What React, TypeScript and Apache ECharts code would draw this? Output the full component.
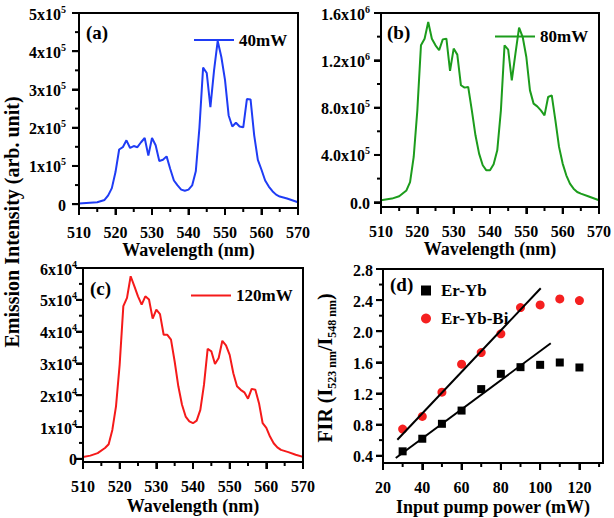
import { useEffect, useRef } from 'react';
import * as echarts from 'echarts';

// ---------- Data ----------
const aWavelength = [510, 515, 517, 518, 519, 520, 521, 522, 523, 524, 525, 526, 527, 528, 529, 530, 531, 532, 533, 534, 535, 536, 537, 538, 539, 540, 541, 542, 543, 544, 545, 546, 547, 548, 549, 550, 551, 552, 553, 554, 555, 556, 557, 558, 559, 560, 561, 562, 563, 564, 565, 567, 570];
const aIntensity40mW = [2000, 5000, 11000, 23000, 42000, 84000, 143000, 149000, 167000, 147000, 152000, 149000, 162000, 173000, 127000, 173000, 154000, 113000, 116000, 125000, 92000, 62000, 49000, 38000, 35000, 38000, 49000, 86000, 201000, 357000, 343000, 254000, 350000, 427000, 385000, 325000, 232000, 203000, 213000, 203000, 201000, 275000, 274000, 180000, 116000, 90000, 62000, 46000, 34000, 25000, 20000, 15000, 5000];

const bWavelength = [510, 513, 515, 517, 518, 519, 520, 521, 522, 523, 524, 525, 526, 527, 528, 529, 530, 531, 532, 533, 534, 535, 536, 537, 538, 539, 540, 541, 542, 543, 544, 545, 546, 547, 548, 549, 550, 551, 552, 553, 554, 555, 556, 557, 558, 559, 560, 561, 562, 563, 564, 565, 567, 570];
const bIntensity80mW = [17000, 31000, 51000, 100000, 170000, 383000, 777000, 1327000, 1383000, 1524000, 1383000, 1327000, 1285000, 1377000, 1383000, 1110000, 1299000, 1248000, 989000, 969000, 975000, 777000, 566000, 411000, 313000, 270000, 270000, 321000, 439000, 777000, 1327000, 1290000, 1031000, 1256000, 1476000, 1397000, 1228000, 946000, 834000, 811000, 777000, 735000, 890000, 904000, 693000, 468000, 327000, 228000, 158000, 115000, 87000, 73000, 51000, 17000];

const cWavelength = [510, 512, 514, 516, 517, 518, 519, 520, 521, 522, 523, 524, 525, 526, 527, 528, 529, 530, 531, 532, 533, 534, 535, 536, 537, 538, 539, 540, 541, 542, 543, 544, 545, 546, 547, 548, 549, 550, 551, 552, 553, 554, 555, 556, 557, 558, 559, 560, 561, 562, 563, 564, 566, 568, 570];
const cIntensity120mW = [600, 1000, 1800, 3400, 4600, 9100, 16500, 29600, 48000, 50600, 57400, 54300, 51100, 48500, 51100, 50100, 44100, 46900, 45500, 39000, 39000, 37500, 30600, 22800, 17000, 13300, 11800, 11200, 12000, 15400, 23300, 34600, 33800, 29800, 31700, 37100, 35700, 32700, 26900, 22800, 21700, 20900, 18900, 22000, 21700, 17500, 11200, 9700, 7000, 4900, 3600, 2800, 2100, 1300, 600];

const pumpPower = [30, 40, 50, 60, 70, 80, 90, 100, 110, 120];
const firErYb = [0.456, 0.618, 0.81, 0.98, 1.256, 1.452, 1.538, 1.568, 1.598, 1.534];
const firErYbBi = [0.742, 0.905, 1.217, 1.576, 1.726, 1.966, 2.304, 2.338, 2.415, 2.394];
const fitErYbX = [26.5, 105.4];
const fitErYbY = [0.37, 1.846];
const fitErYbBiX = [27.3, 100.3];
const fitErYbBiY = [0.605, 2.552];

// Axis ranges
const wlRange = [510, 570];
const aYRange = [-10000, 500000];
const bYRange = [-40000, 1600000];
const cYRange = [-1000, 60000];
const dXRange = [20, 132];
const dYRange = [0.306, 2.8];

// Tick values
const wlTicks = [510, 520, 530, 540, 550, 560, 570];
const wlMinor = [515, 525, 535, 545, 555, 565];
const aYTicks = [0, 100000, 200000, 300000, 400000, 500000];
const aYMinor = [50000, 150000, 250000, 350000, 450000];
const bYTicks = [0, 400000, 800000, 1200000, 1600000];
const bYMinor = [200000, 600000, 1000000, 1400000];
const cYTicks = [0, 10000, 20000, 30000, 40000, 50000, 60000];
const cYMinor = [5000, 15000, 25000, 35000, 45000, 55000];
const dXTicks = [20, 40, 60, 80, 100, 120];
const dXMinor = [30, 50, 70, 90, 110, 130];
const dYTicks = [0.4, 0.8, 1.2, 1.6, 2.0, 2.4, 2.8];
const dYMinor = [0.6, 1.0, 1.4, 1.8, 2.2, 2.6];

const FONT = '"Liberation Serif", "Times New Roman", serif';
const zip = (xs: number[], ys: number[]) => xs.map((x, i) => [x, ys[i]]);

const supRich = {
  m: { fontFamily: FONT, fontWeight: 'bold', fontSize: 16, lineHeight: 18, verticalAlign: 'bottom', color: '#000' },
  s: { fontFamily: FONT, fontWeight: 'bold', fontSize: 10, lineHeight: 10, verticalAlign: 'top', color: '#000' },
};

function mainAxis(dim: 'x' | 'y', gi: number, range: number[], major: number[], formatter: any, margin: number, name?: string, nameGap?: number) {
  const a: any = {
    type: 'value', gridIndex: gi, min: range[0], max: range[1],
    position: dim === 'x' ? 'bottom' : 'left',
    axisLine: { show: true, onZero: false, lineStyle: { color: '#000', width: 2 } },
    axisTick: { show: true, length: 7, customValues: major, lineStyle: { color: '#000', width: 2 } },
    axisLabel: {
      show: true, customValues: major, formatter, rich: supRich, margin,
      fontFamily: FONT, fontWeight: 'bold', fontSize: 16, color: '#000',
      showMinLabel: true, showMaxLabel: true, hideOverlap: false,
    },
    splitLine: { show: false },
  };
  if (name) {
    a.name = name; a.nameLocation = 'middle'; a.nameGap = nameGap;
    a.nameTextStyle = { fontFamily: FONT, fontWeight: 'bold', fontSize: 18, color: '#000', verticalAlign: 'top' };
  }
  return a;
}

const fmtA = (v: number) => (v === 0 ? '{m|0}' : `{m|${Math.round(v / 1e5)}x10}{s|5}`);
const fmtB = (v: number) => v === 0 ? '{m|0.0}' : v < 1e6 ? `{m|${(v / 1e5).toFixed(1)}x10}{s|5}` : `{m|${(v / 1e6).toFixed(1)}x10}{s|6}`;
const fmtC = (v: number) => (v === 0 ? '{m|0}' : `{m|${Math.round(v / 1e4)}x10}{s|4}`);
const fmtD = (v: number) => `{m|${v.toFixed(1)}}`;
const fmtInt = (v: number) => `{m|${Math.round(v)}}`;

// Frame (box) drawn through the axes' own scales
const frameSeries = (gi: number, xr: number[], yr: number[]) => ({
  name: `frame${gi}`, type: 'line', xAxisIndex: gi, yAxisIndex: gi, symbol: 'none', clip: false,
  lineStyle: { color: '#000', width: 2 },
  data: [[xr[0], yr[0]], [xr[1], yr[0]], [xr[1], yr[1]], [xr[0], yr[1]], [xr[0], yr[0]]],
});
// Outward tick marks placed through the axes' scales
const xTickSeries = (gi: number, vals: number[], yMin: number, len: number, key: string) => ({
  name: `xt${gi}${key}`, type: 'scatter', xAxisIndex: gi, yAxisIndex: gi, clip: false,
  symbol: 'rect', symbolSize: [2, len], symbolOffset: [0, len / 2],
  itemStyle: { color: '#000', opacity: 1 },
  data: vals.map((v) => [v, yMin]),
});
const yTickSeries = (gi: number, vals: number[], xMin: number, len: number, key: string) => ({
  name: `yt${gi}${key}`, type: 'scatter', xAxisIndex: gi, yAxisIndex: gi, clip: false,
  symbol: 'rect', symbolSize: [len, 2], symbolOffset: [-len / 2, 0],
  itemStyle: { color: '#000', opacity: 1 },
  data: vals.map((v) => [xMin, v]),
});

export default function App() {
  const ref = useRef<HTMLDivElement>(null);
  useEffect(() => {
    if (!ref.current) return;
    const chart = echarts.init(ref.current, undefined, { renderer: 'svg' });
    const grids = [
      { left: 79, top: 13, width: 219, height: 195 },
      { left: 381, top: 13, width: 218, height: 194 },
      { left: 83, top: 268, width: 220, height: 194 },
      { left: 383, top: 269, width: 220, height: 194 },
    ].map((g) => ({ ...g, show: true, borderColor: '#000', borderWidth: 2 }));

    const xAxis = [
      mainAxis('x', 0, wlRange, wlTicks, fmtInt, 14, 'Wavelength (nm)', 30),
      mainAxis('x', 1, wlRange, wlTicks, fmtInt, 14, 'Wavelength (nm)', 30),
      mainAxis('x', 2, wlRange, wlTicks, fmtInt, 14, 'Wavelength (nm)', 35),
      mainAxis('x', 3, dXRange, dXTicks, fmtInt, 14, 'Input pump power (mW)', 35),
    ];
    const yAxis = [
      mainAxis('y', 0, aYRange, aYTicks, fmtA, 13),
      mainAxis('y', 1, bYRange, bYTicks, fmtB, 11),
      mainAxis('y', 2, cYRange, cYTicks, fmtC, 6),
      mainAxis('y', 3, dYRange, dYTicks, fmtD, 10),
    ];
    const legendText = { fontFamily: FONT, fontWeight: 'bold', fontSize: 17, color: '#000' };

    const panels = [
      { xr: wlRange, yr: aYRange, xt: wlTicks, xm: wlMinor, yt: aYTicks, ym: aYMinor },
      { xr: wlRange, yr: bYRange, xt: wlTicks, xm: wlMinor, yt: bYTicks, ym: bYMinor },
      { xr: wlRange, yr: cYRange, xt: wlTicks, xm: wlMinor, yt: cYTicks, ym: cYMinor },
      { xr: dXRange, yr: dYRange, xt: dXTicks, xm: dXMinor, yt: dYTicks, ym: dYMinor },
    ];
    const decorations: any[] = [];
    panels.forEach((p, gi) => {
      decorations.push(frameSeries(gi, p.xr, p.yr));
      decorations.push(xTickSeries(gi, p.xt, p.yr[0], 7, 'M'));
      decorations.push(xTickSeries(gi, p.xm, p.yr[0], 4, 'm'));
      decorations.push(yTickSeries(gi, p.yt, p.xr[0], 7, 'M'));
      decorations.push(yTickSeries(gi, p.ym, p.xr[0], 4, 'm'));
    });

    chart.setOption({
      animation: false,
      grid: grids,
      xAxis,
      yAxis,
      legend: [
        { data: [{ name: '40mW', icon: 'rect' }], left: 189, top: 26.5, itemWidth: 40, itemHeight: 2, textStyle: legendText, selectedMode: false },
        { data: [{ name: '80mW', icon: 'rect' }], left: 490, top: 23, itemWidth: 40, itemHeight: 2, textStyle: legendText, selectedMode: false },
        { data: [{ name: '120mW', icon: 'rect' }], left: 186, top: 282, itemWidth: 40, itemHeight: 2, textStyle: legendText, selectedMode: false },
        {
          data: [{ name: 'Er-Yb', icon: 'rect' }, { name: 'Er-Yb-Bi', icon: 'circle' }],
          orient: 'vertical', left: 416, top: 277, itemWidth: 10, itemHeight: 10, itemGap: 11,
          textStyle: { ...legendText, padding: [0, 0, 0, 5] }, selectedMode: false,
        },
      ],
      graphic: [
        { type: 'text', x: 12, y: 222, rotation: Math.PI / 2, style: { text: 'Emission Intensity (arb. unit)', font: `bold 20px ${FONT}`, fill: '#000', textAlign: 'center', textVerticalAlign: 'middle' } },
        {
          type: 'text', x: 325, y: 368, rotation: Math.PI / 2,
          style: {
            text: '{m|FIR (I}{s|523 nm}{m|/I}{s|548 nm}{m|)}',
            rich: {
              m: { fontFamily: FONT, fontWeight: 'bold', fontSize: 20, lineHeight: 26, fill: '#000' },
              s: { fontFamily: FONT, fontWeight: 'bold', fontSize: 12, lineHeight: 12, verticalAlign: 'bottom', fill: '#000' },
            },
            textAlign: 'center', textVerticalAlign: 'middle',
          },
        },
        { type: 'text', x: 86, y: 32, style: { text: '(a)', font: `bold 19px ${FONT}`, fill: '#000', textVerticalAlign: 'middle' } },
        { type: 'text', x: 387, y: 32, style: { text: '(b)', font: `bold 19px ${FONT}`, fill: '#000', textVerticalAlign: 'middle' } },
        { type: 'text', x: 90, y: 288, style: { text: '(c)', font: `bold 19px ${FONT}`, fill: '#000', textVerticalAlign: 'middle' } },
        { type: 'text', x: 390, y: 284, style: { text: '(d)', font: `bold 19px ${FONT}`, fill: '#000', textVerticalAlign: 'middle' } },
      ],
      series: [
        { name: '40mW', type: 'line', xAxisIndex: 0, yAxisIndex: 0, symbol: 'none', lineStyle: { color: '#1f3cf5', width: 2 }, itemStyle: { color: '#1f3cf5' }, data: zip(aWavelength, aIntensity40mW) },
        { name: '80mW', type: 'line', xAxisIndex: 1, yAxisIndex: 1, symbol: 'none', lineStyle: { color: '#1c9c1c', width: 2 }, itemStyle: { color: '#1c9c1c' }, data: zip(bWavelength, bIntensity80mW) },
        { name: '120mW', type: 'line', xAxisIndex: 2, yAxisIndex: 2, symbol: 'none', lineStyle: { color: '#f51a1a', width: 2 }, itemStyle: { color: '#f51a1a' }, data: zip(cWavelength, cIntensity120mW) },
        { name: 'fitErYb', type: 'line', xAxisIndex: 3, yAxisIndex: 3, symbol: 'none', lineStyle: { color: '#000', width: 2 }, data: zip(fitErYbX, fitErYbY) },
        { name: 'fitErYbBi', type: 'line', xAxisIndex: 3, yAxisIndex: 3, symbol: 'none', lineStyle: { color: '#000', width: 2 }, data: zip(fitErYbBiX, fitErYbBiY) },
        { name: 'Er-Yb', type: 'scatter', xAxisIndex: 3, yAxisIndex: 3, symbol: 'rect', symbolSize: 8, itemStyle: { color: '#000', opacity: 1 }, data: zip(pumpPower, firErYb) },
        { name: 'Er-Yb-Bi', type: 'scatter', xAxisIndex: 3, yAxisIndex: 3, symbol: 'circle', symbolSize: 9, itemStyle: { color: '#f52020', opacity: 1 }, data: zip(pumpPower, firErYbBi) },
        ...decorations,
      ],
    });
    return () => chart.dispose();
  }, []);
  return <div ref={ref} style={{ position: 'fixed', left: 0, top: 0, width: 614, height: 518, background: '#fff' }} />;
}
